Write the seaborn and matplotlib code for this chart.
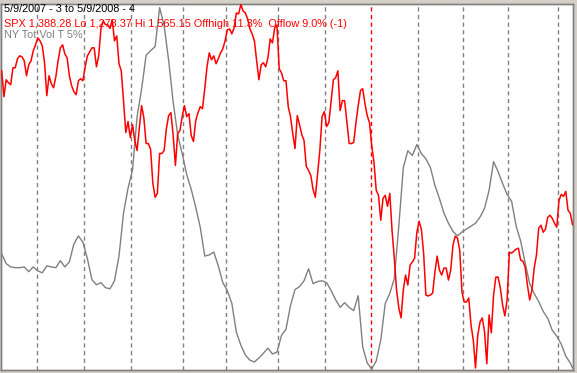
import numpy as np
import pandas as pd
import seaborn as sns
import matplotlib.pyplot as plt

# SPX daily closes, 5/9/2007 .. 5/9/2008 (one value per trading day)
spx_close = [
    1512.0, 1491.2, 1504.8, 1502.4, 1500.8, 1514.4, 1514.4, 1521.6, 1524.0, 1523.2,
    1520.0, 1508.0, 1516.8, 1520.0, 1528.0, 1532.8, 1538.4, 1536.0, 1532.0, 1518.4,
    1492.0, 1508.0, 1501.6, 1498.4, 1507.2, 1520.0, 1530.4, 1532.8, 1525.6, 1522.4,
    1508.0, 1500.0, 1495.2, 1492.8, 1504.0, 1505.6, 1504.0, 1515.2, 1524.0, 1527.2,
    1530.4, 1530.4, 1515.2, 1524.0, 1546.0, 1552.0, 1549.0, 1549.0, 1546.0, 1553.0,
    1536.0, 1540.0, 1517.6, 1512.0, 1488.0, 1462.4, 1471.2, 1458.4, 1468.8, 1456.0,
    1448.0, 1466.4, 1484.0, 1474.4, 1453.6, 1453.6, 1448.8, 1421.6, 1410.4, 1413.6,
    1445.6, 1445.6, 1448.0, 1465.6, 1476.0, 1478.4, 1460.0, 1436.0, 1461.6, 1464.0,
    1475.2, 1484.0, 1475.2, 1477.6, 1460.0, 1455.2, 1472.0, 1478.4, 1483.2, 1481.6,
    1497.6, 1515.2, 1526.4, 1520.8, 1524.0, 1517.6, 1521.6, 1526.4, 1529.6, 1536.0,
    1544.8, 1545.6, 1541.6, 1546.4, 1558.4, 1557.6, 1565.15, 1560.0, 1558.4, 1553.6,
    1545.6, 1541.6, 1536.0, 1520.0, 1504.8, 1516.8, 1518.4, 1515.2, 1522.4, 1537.6,
    1534.4, 1546.4, 1548.8, 1513.6, 1510.4, 1504.0, 1504.0, 1483.2, 1475.2, 1461.6,
    1449.6, 1476.0, 1468.8, 1460.8, 1456.0, 1435.2, 1432.0, 1428.0, 1416.8, 1410.4,
    1428.8, 1448.0, 1475.2, 1479.2, 1467.2, 1470.4, 1488.0, 1504.8, 1506.4, 1512.0,
    1480.0, 1488.0, 1488.0, 1470.4, 1453.6, 1453.6, 1454.4, 1470.4, 1484.0, 1496.0,
    1497.6, 1485.6, 1476.0, 1470.4, 1452.0, 1438.4, 1416.0, 1412.0, 1392.0, 1409.6,
    1412.0, 1403.2, 1413.6, 1384.0, 1361.6, 1336.0, 1321.6, 1313.6, 1336.0, 1348.0,
    1340.0, 1356.0, 1358.4, 1361.6, 1382.4, 1391.2, 1384.8, 1365.6, 1332.0, 1331.2,
    1332.0, 1333.6, 1350.4, 1363.2, 1352.0, 1348.0, 1353.6, 1353.6, 1344.0, 1352.0,
    1372.0, 1379.2, 1377.6, 1368.0, 1334.4, 1326.4, 1326.4, 1329.6, 1308.0, 1296.0,
    1273.37, 1300.0, 1310.4, 1313.6, 1302.4, 1276.8, 1316.0, 1301.6, 1332.0, 1346.4,
    1346.4, 1337.6, 1324.0, 1315.2, 1328.0, 1366.4, 1365.6, 1367.2, 1368.8, 1369.6,
    1360.0, 1359.2, 1354.4, 1340.0, 1328.0, 1336.0, 1353.6, 1364.0, 1385.6, 1388.0,
    1382.4, 1384.8, 1394.4, 1396.0, 1393.6, 1389.6, 1386.4, 1408.0, 1412.8, 1411.2,
    1415.2, 1400.0, 1397.6, 1388.28,
]

# NY total volume, 5% smoothing, as 0-100 index (every second trading day + last day)
vol_days = list(range(0, 253, 2)) + [253]
vol_index = [
    31.9, 29.2, 28.3, 28.1, 28.1, 28.3, 27.0, 28.3, 27.2, 26.7,
    28.6, 28.3, 28.1, 30.0, 28.3, 29.7, 34.6, 36.8, 35.1, 30.5,
    24.8, 23.4, 24.0, 22.6, 22.3, 24.5, 31.3, 43.1, 49.9, 55.0,
    69.5, 77.1, 86.4, 87.7, 88.8, 99.5, 94.6, 85.0, 73.6, 64.6,
    59.4, 53.7, 49.6, 44.7, 39.2, 31.3, 31.6, 32.4, 28.6, 24.0,
    21.8, 18.3, 10.4, 6.8, 4.1, 2.7, 2.2, 3.3, 4.6, 6.0,
    4.4, 4.9, 9.5, 11.2, 17.7, 22.1, 22.9, 24.5, 27.8, 23.7,
    24.3, 24.5, 24.0, 21.8, 19.3, 17.2, 18.5, 17.2, 16.3, 20.4,
    6.3, 1.9, 0.3, 2.5, 8.2, 18.3, 21.0, 25.1, 39.5, 55.6,
    60.2, 58.9, 61.9, 59.4, 58.0, 55.6, 50.7, 47.1, 43.1, 40.3,
    38.1, 36.8, 37.9, 38.7, 39.5, 40.3, 42.0, 44.4, 49.3, 57.2,
    54.5, 51.2, 48.2, 46.3, 39.5, 35.4, 29.4, 23.7, 21.0, 18.8,
    16.1, 14.2, 10.9, 9.3, 7.1, 3.8, 1.9, 0.5,
]

# first trading day of each month (index into spx_close); Jan 2008 marks the new year
month_starts = [16, 37, 58, 81, 100, 123, 144, 164, 185, 205, 225, 247]
year_start = 164

title_line = "5/9/2007 - 3 to 5/9/2008 - 4"
vol_label = "NY Tot Vol T 5%"

days = np.arange(len(spx_close))
spx = pd.DataFrame({"day": days, "close": spx_close})
vol = pd.DataFrame({"day": vol_days, "vol": vol_index})

last, lo, hi = spx_close[-1], min(spx_close), max(spx_close)
spx_line = (f"SPX {last:,.2f} Lo {lo:,.2f} Hi {hi:,.2f} "
            f"Offhigh {(hi - last) / hi * 100:.1f}%  Offlow {(last - lo) / lo * 100:.1f}% (-1)")

sns.set_style("white")
plt.rcParams["font.family"] = ["Liberation Sans", "DejaVu Sans"]

W, H = 577, 373
fig = plt.figure(figsize=(W / 100, H / 100), dpi=100, facecolor="#D4D0C8")
ax = fig.add_axes([1 / W, 3 / H, 572 / W, 366 / H])
ax.set_facecolor("white")

for m in month_starts:
    ax.axvline(m - 0.5, color="red" if m == year_start else "#808080",
               lw=1, ls=(0, (3, 2.5)), zorder=1)

sns.lineplot(data=vol, x="day", y="vol", ax=ax, color="#808080", lw=1, zorder=2)
ax.set_ylim(0, 100.5)

ax2 = ax.twinx()
sns.lineplot(data=spx, x="day", y="close", ax=ax2, color="red", lw=1.1, zorder=3)
ax2.set_ylim(1271.8, 1565.6)

for a in (ax, ax2):
    a.set_xlim(-0.3, 253.2)
    a.set_xticks([])
    a.set_yticks([])
    a.set_xlabel("")
    a.set_ylabel("")
    for s in a.spines.values():
        s.set_color("#808080")
        s.set_linewidth(1)

fig.text(4 / W, 1 - 12 / H, title_line, color="black", fontsize=7.8, va="baseline")
fig.text(4 / W, 1 - 26.7 / H, spx_line, color="red", fontsize=7.8, va="baseline")
fig.text(4 / W, 1 - 38.5 / H, vol_label, color="#808080", fontsize=7.8, va="baseline")

fig.savefig("out.png", dpi=100, facecolor=fig.get_facecolor())
